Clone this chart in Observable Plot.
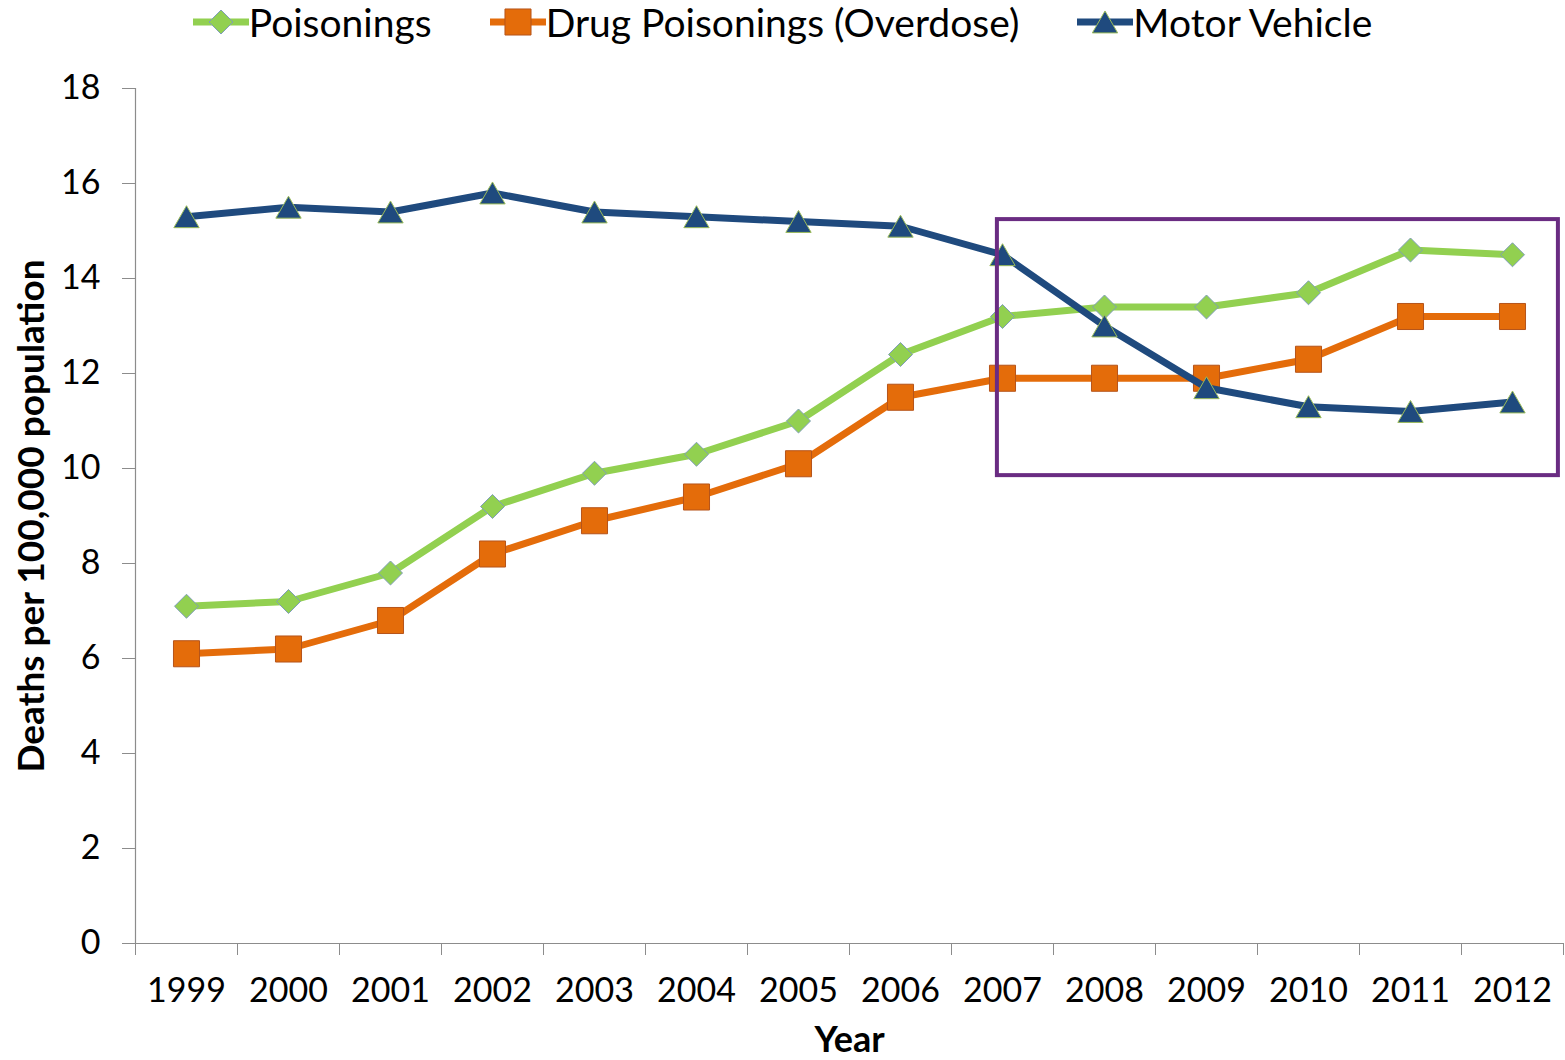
<!DOCTYPE html>
<html><head><meta charset="utf-8">
<script src="https://cdn.jsdelivr.net/npm/d3@7"></script>
<script src="https://cdn.jsdelivr.net/npm/@observablehq/plot@0.6"></script>
<style>
body{margin:0;background:#fff;font-family:Lato,"Open Sans",sans-serif;}
#legend{height:50px;display:flex;justify-content:center;align-items:flex-start;gap:58px;font-size:39px;line-height:44px;color:#000;}
.item{display:flex;align-items:center;}
.item svg{display:block;}
</style></head><body>
<div id="legend"></div>
<div id="chart"></div>
<script>
// ---- data ----
const years = [1999,2000,2001,2002,2003,2004,2005,2006,2007,2008,2009,2010,2011,2012];
const poisonings = [7.1,7.2,7.8,9.2,9.9,10.3,11.0,12.4,13.2,13.4,13.4,13.7,14.6,14.5];
const drugPoisonings = [6.1,6.2,6.8,8.2,8.9,9.4,10.1,11.5,11.9,11.9,11.9,12.3,13.2,13.2];
const motorVehicle = [15.3,15.5,15.4,15.8,15.4,15.3,15.2,15.1,14.5,13.0,11.7,11.3,11.2,11.4];
const seriesNames = ["Poisonings","Drug Poisonings (Overdose)","Motor Vehicle"];
const yTicks = [0,2,4,6,8,10,12,14,16,18];
const highlight = [{x1:2006.95, x2:2012.45, y1:9.85, y2:15.24}];
const xLabel = "Year";
const yLabel = "Deaths per 100,000 population";

// ---- styles ----
const styles = [
  {color:"#92D050", symbol:"diamond2", r:10.8, dy:0, border:"#7f9db9"},
  {color:"#E46C0A", symbol:"square", r:14.7, dy:0, border:"#b5541a"},
  {color:"#1F4A7E", symbol:"triangle", r:9.4, dy:3.6, border:"#9bbb59"}
];
const axisGray = "#8c8c8c";

const seriesValues = [poisonings, drugPoisonings, motorVehicle];
const table = seriesNames.map((name, i) => years.map((yr, j) => ({series:name, year:yr, value:seriesValues[i][j]})));
const boundaries = years.map(y => y - 0.5).concat([years[years.length-1] + 0.5]);

// ---- legend ----
const legend = d3.select("#legend");
seriesNames.forEach((name, i) => {
  const s = styles[i];
  const it = legend.append("div").attr("class","item");
  const sv = it.append("svg").attr("width",56).attr("height",34);
  sv.append("line").attr("x1",0).attr("x2",56).attr("y1",17).attr("y2",17)
    .attr("stroke",s.color).attr("stroke-width",7);
  const symMap = {diamond2:d3.symbolDiamond2, square:d3.symbolSquare, triangle:d3.symbolTriangle};
  sv.append("path").attr("transform",`translate(28,${17+s.dy})`)
    .attr("d", d3.symbol(symMap[s.symbol], Math.PI*s.r*s.r)())
    .attr("fill",s.color).attr("stroke",s.border).attr("stroke-width",1);
  it.append("span").text(name);
});

// ---- chart ----
const marks = [
  Plot.ruleX([boundaries[0]], {y1:0, y2:18, stroke:axisGray, strokeWidth:1.2}),
  Plot.ruleY([0], {stroke:axisGray, strokeWidth:1.2}),
  Plot.axisY({ticks:yTicks, tickSize:13, tickPadding:22, fontSize:34, stroke:axisGray, fill:"#000", tickFormat:d=>String(d)}),
  Plot.axisX({ticks:boundaries, tickSize:12, tickFormat:()=>"", stroke:axisGray}),
  Plot.axisX({ticks:years, tickSize:0, tickPadding:34, fontSize:34, fill:"#000", tickFormat:d=>String(d)}),
  Plot.text([xLabel], {frameAnchor:"bottom", dy:97, fontSize:36, fontWeight:"bold", fill:"#000", lineAnchor:"middle", textAnchor:"middle"}),
  Plot.text([yLabel], {frameAnchor:"left", dx:-103, rotate:-90, fontSize:37, fontWeight:"bold", fill:"#000", lineAnchor:"middle", textAnchor:"middle"})
];
table.forEach((data, i) => {
  const s = styles[i];
  marks.push(Plot.line(data, {x:"year", y:"value", stroke:s.color, strokeWidth:7, strokeLinejoin:"round", strokeLinecap:"butt"}));
  marks.push(Plot.dot(data, {x:"year", y:"value", symbol:s.symbol, r:s.r, dy:s.dy, fill:s.color, stroke:s.border, strokeWidth:1}));
});
marks.push(Plot.rect(highlight, {x1:"x1", x2:"x2", y1:"y1", y2:"y2", fill:"none", stroke:"#6A2C82", strokeWidth:4}));

const chart = Plot.plot({
  width:1565, height:1010,
  marginTop:38, marginBottom:117, marginLeft:135, marginRight:2,
  style:{fontFamily:"Lato, 'Open Sans', sans-serif", background:"white", color:"black", overflow:"visible"},
  x:{type:"linear", domain:[boundaries[0], boundaries[boundaries.length-1]], axis:null},
  y:{domain:[0,18], axis:null},
  marks
});
document.getElementById("chart").appendChild(chart);
</script>
</body></html>
